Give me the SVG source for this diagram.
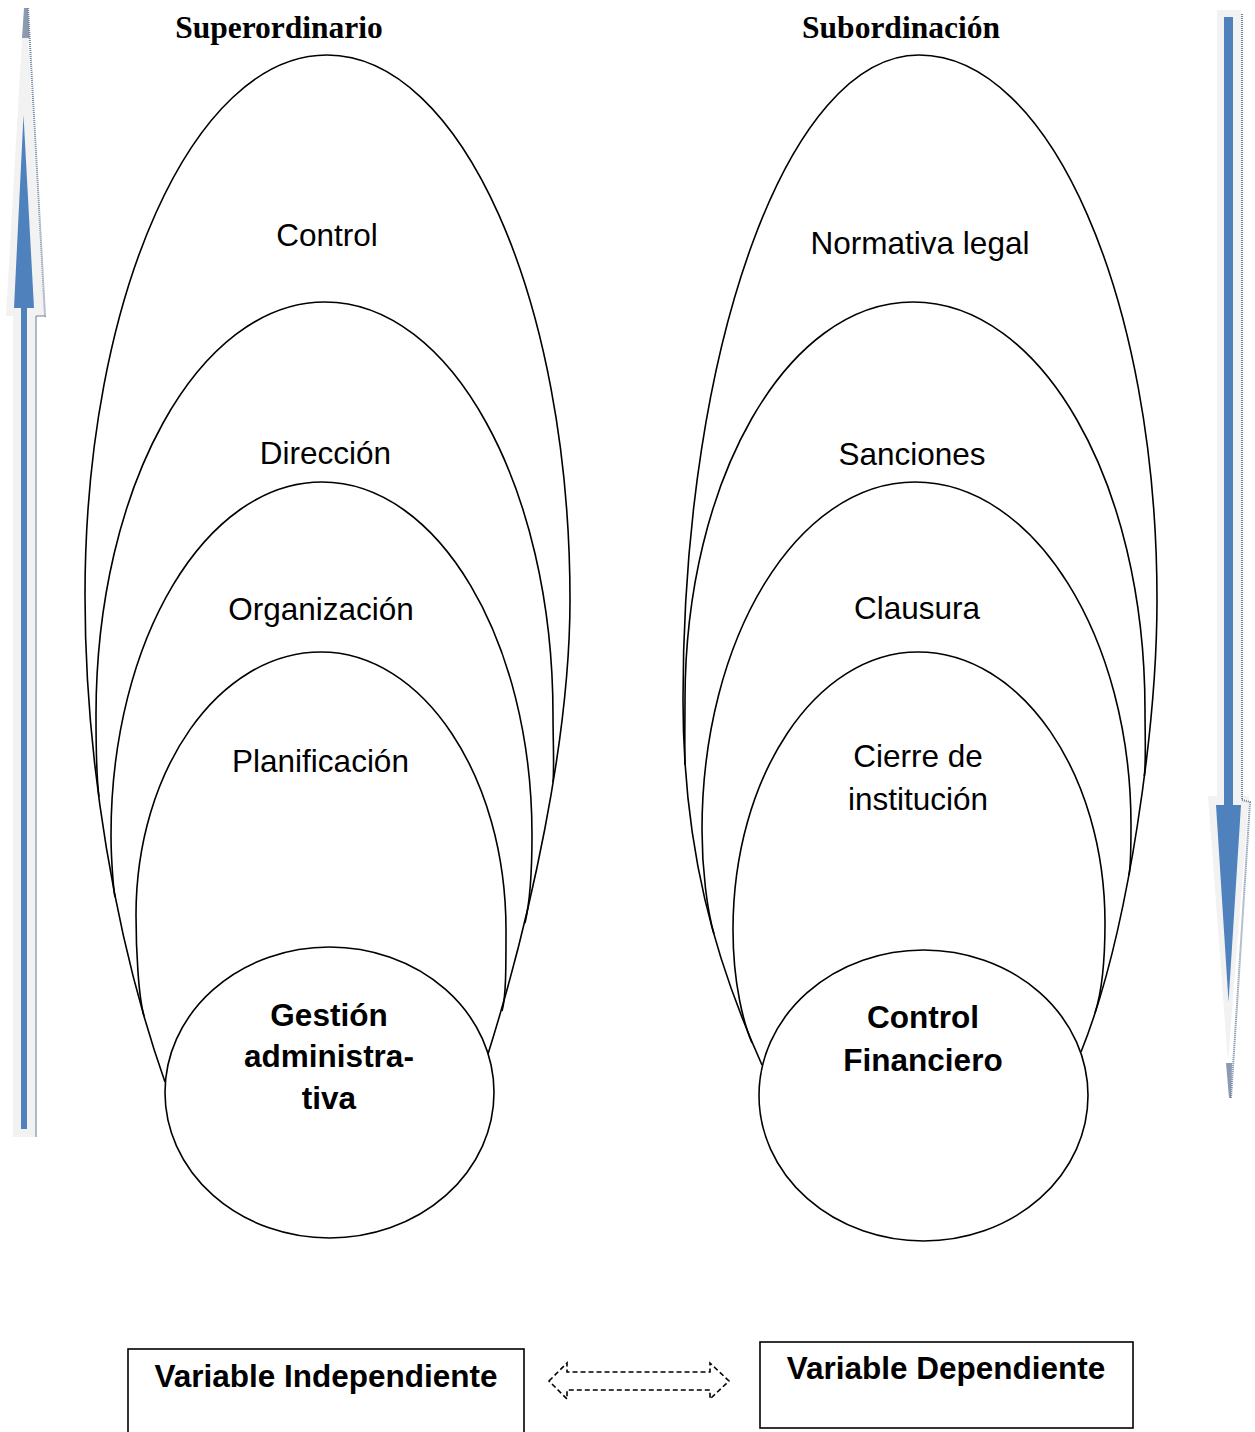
<svg xmlns="http://www.w3.org/2000/svg" width="1255" height="1432" viewBox="0 0 1255 1432">
<style>
.sh{fill:none;stroke:#000;stroke-width:1.6}
.cir{fill:#fff;stroke:#000;stroke-width:1.6}
.t{font-family:"Liberation Sans",Arial,sans-serif;font-size:31.5px;fill:#000;text-anchor:middle}
.b{font-weight:bold}
.h{font-family:"Liberation Serif","Times New Roman",serif;font-size:31.5px;font-weight:bold;fill:#000;text-anchor:middle}
.box{fill:#fff;stroke:#000;stroke-width:1.6}
.shadow{fill:#f2f2f2}
.blue{fill:#4f81bd}
.dot{fill:none;stroke:#6f819c;stroke-width:2;stroke-dasharray:1 1}
</style>
<rect width="1255" height="1432" fill="#fff"/>

<g id="arrow-up">
<path class="shadow" d="M22,38 L28,38 L44,316 L37,316 L37,1137 L13,1137 L13,316 L6,316 Z"/>
<path d="M24,8 L28,8 L29.5,38 L22,38 Z" fill="#8d9bb0"/>
<path class="dot" d="M28,8 L45,316 L36,316 L36,1137"/>
<path class="blue" d="M23.5,115 L34,308 L27,308 L27,1129 L21,1129 L21,308 L14,308 Z"/>
</g>

<g id="arrow-down">
<path class="shadow" d="M1217,10 L1241,10 L1241,796 L1249,796 L1228,1063 L1208,796 L1217,796 Z"/>
<path d="M1226,1063 L1232,1063 L1231,1098 L1229,1098 Z" fill="#8d9bb0"/>
<path class="dot" d="M1242,14 L1242,800 L1250,802 L1231,1098"/>
<path class="blue" d="M1224,17 L1233,17 L1233,805 L1241,805 L1228.5,1002 L1216,805 L1224,805 Z"/>
</g>

<text class="h" x="279" y="38">Superordinario</text>
<text class="h" x="901" y="38">Subordinación</text>

<g id="left-control">
<path class="sh" d="M165,1082 C115,940 85,760 85,595 C85,297 193,55 327,55 C461,55 570,299 570,600 C570,740 530,920 488,1054"/>
<text class="t" x="327" y="246">Control</text>
</g>
<g id="left-direccion">
<path class="sh" d="M99,797 C96.4,777 96,745 96,715 C96,487 198.5,302 325,302 C451.5,302 553,487 553,715 C553,740 554.4,767 553,782"/>
<text class="t" x="325.5" y="464">Dirección</text>
</g>
<g id="left-organizacion">
<path class="sh" d="M115,897 C113.1,887.2 111,855 111,835 C111,640 205.5,482 322,482 C438,482 532,640 532,835 C532,870 529.6,903.5 525,923"/>
<text class="t" x="321" y="620">Organización</text>
</g>
<g id="left-planificacion">
<path class="sh" d="M144,1016 C138.5,996.8 136,950 136,915 C136,770 219,652 321,652 C423,652 506,776.5 506,930 C506,970 506,996.6 502,1011"/>
<text class="t" x="320.5" y="772">Planificación</text>
</g>
<g id="left-gestion">
<ellipse class="cir" cx="329.5" cy="1092.5" rx="164.5" ry="145.5"/>
<text class="t b" x="329" y="1026">Gestión</text>
<text class="t b" x="329" y="1067">administra-</text>
<text class="t b" x="329" y="1109">tiva</text>
</g>

<g id="right-normativa">
<path class="sh" d="M762,1065 C715,960 683,850 683,700 C683,344 788.7,55 919,55 C1050.4,55 1157,299 1157,600 C1157,720 1130,930 1081,1052"/>
<text class="t" x="920" y="254">Normativa legal</text>
</g>
<g id="right-sanciones">
<path class="sh" d="M685,765 C684.5,745 685,720 685,700 C685,480 787,302 913,302 C1040.6,302 1145,480 1145,710 C1145,735 1146.2,761 1144.3,776"/>
<text class="t" x="912" y="465">Sanciones</text>
</g>
<g id="right-clausura">
<path class="sh" d="M714,934 C707.2,910 702,870 702,830 C702,637.8 797.4,482 915,482 C1034.8,482 1131,638 1131,825 C1131,845 1130.8,865.2 1129,875"/>
<text class="t" x="917" y="619">Clausura</text>
</g>
<g id="right-cierre">
<path class="sh" d="M752,1043 C744.2,1024.6 733,985 733,930 C733,776.5 815.8,652 918,652 C1021.3,652 1105,773.3 1105,923 C1105,965 1100.5,995.9 1095,1013"/>
<text class="t" x="918" y="767">Cierre de</text>
<text class="t" x="918" y="810">institución</text>
</g>
<g id="right-control-financiero">
<ellipse class="cir" cx="923.5" cy="1095.5" rx="164.5" ry="145.5"/>
<text class="t b" x="923" y="1028">Control</text>
<text class="t b" x="923" y="1071">Financiero</text>
</g>

<g id="var-independiente">
<rect class="box" x="128" y="1349" width="396" height="100"/>
<text class="t b" x="326" y="1387">Variable Independiente</text>
</g>
<g id="var-dependiente">
<rect class="box" x="760" y="1342" width="373" height="86"/>
<text class="t b" x="946" y="1379">Variable Dependiente</text>
</g>

<g id="connectors">
<path d="M549,1381 L567,1363 L567,1372 L710,1372 L710,1363 L729,1381 L710,1399 L710,1390 L567,1390 L567,1399 Z" fill="none" stroke="#000" stroke-width="1.6" stroke-dasharray="5 3"/>
</g>
</svg>
